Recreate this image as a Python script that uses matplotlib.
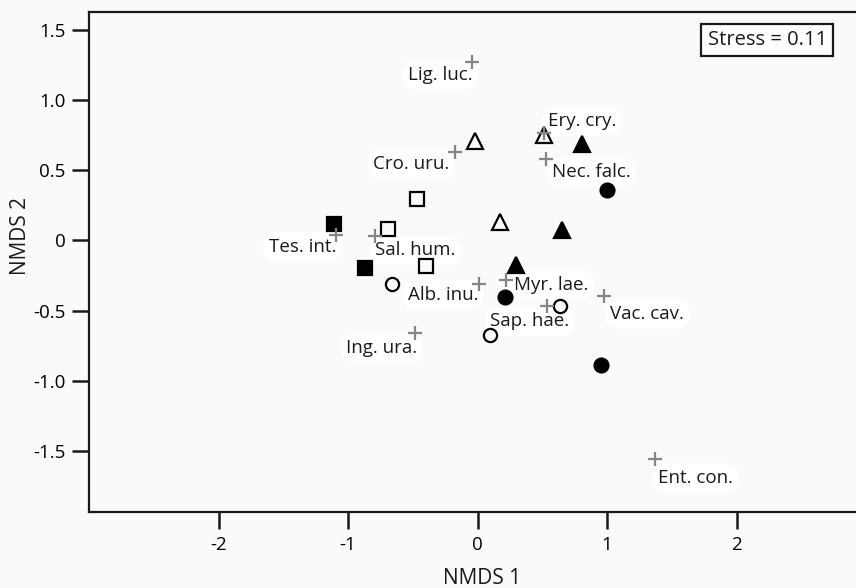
import matplotlib
matplotlib.use("Agg")
import matplotlib.pyplot as plt

plt.rcParams['font.family'] = ['Open Sans', 'DejaVu Sans']
plt.rcParams['axes.unicode_minus'] = False

# Site scores (groups)
open_tri_x = [-0.02, 0.51, 0.17]
open_tri_y = [0.71, 0.75, 0.13]
fill_tri_x = [0.81, 0.65, 0.30]
fill_tri_y = [0.69, 0.075, -0.175]
open_sq_x = [-0.47, -0.69, -0.40]
open_sq_y = [0.295, 0.084, -0.18]
fill_sq_x = [-1.11, -0.87]
fill_sq_y = [0.118, -0.198]
open_circ_x = [-0.66, 0.64, 0.10]
open_circ_y = [-0.31, -0.47, -0.67]
fill_circ_x = [1.00, 0.21, 0.95]
fill_circ_y = [0.36, -0.405, -0.89]

# Species scores
species = ["Lig. luc.", "Cro. uru.", "Ery. cry.", "Nec. falc.", "Tes. int.", "Sal. hum.",
           "Alb. inu.", "Myr. lae.", "Sap. hae.", "Vac. cav.", "Ing. ura.", "Ent. con."]
sp_x = [-0.04, -0.17, 0.51, 0.53, -1.09, -0.79, 0.01, 0.22, 0.54, 0.98, -0.48, 1.37]
sp_y = [1.27, 0.63, 0.765, 0.58, 0.04, 0.03, -0.31, -0.28, -0.47, -0.395, -0.66, -1.556]
# label offsets in pixels (dx, dy) and alignment
label_off = [(0, -13, 'right'), (-6, -12, 'right'), (4, 12, 'left'), (6, -13, 'left'),
             (0, -12, 'right'), (0, -14, 'left'), (0, -11, 'right'), (8, -5, 'left'),
             (-57, -15, 'left'), (6, -18, 'left'), (2, -15, 'right'), (3, -19, 'left')]

xticks = [-2, -1, 0, 1, 2]
xticklabels = ["-2", "-1", "0", "1", "2"]
yticks = [1.5, 1.0, 0.5, 0, -0.5, -1.0, -1.5]
yticklabels = ["1.5", "1.0", "0.5", "0", "-0.5", "-1.0", "-1.5"]

W, H = 856, 588
fig = plt.figure(figsize=(W / 100, H / 100), dpi=100, facecolor='#fafafa')
ax = fig.add_axes([89 / W, 76 / H, 777 / W, 500 / H])
ax.set_facecolor('#fafafa')
ax.set_xlim(-3, 3)
ax.set_ylim(-1.934, 1.627)

for s in ['top', 'left', 'bottom']:
    ax.spines[s].set_linewidth(1.6)
    ax.spines[s].set_color('#1a1a1a')
ax.spines['right'].set_visible(False)

ax.set_xticks(xticks)
ax.set_xticklabels(xticklabels)
ax.set_yticks(yticks)
ax.set_yticklabels(yticklabels)
ax.tick_params(direction='out', length=12, width=1.8, labelsize=13.5, pad=5, color='#1a1a1a')

ms = 10
mew = 1.6
z = 5
ax.plot(open_tri_x, open_tri_y, '^', ms=ms + 1, mfc='none', mec='black', mew=mew, ls='none', zorder=z)
ax.plot(fill_tri_x, fill_tri_y, '^', ms=ms + 1, mfc='black', mec='black', mew=mew, ls='none', zorder=z)
ax.plot(open_sq_x, open_sq_y, 's', ms=ms - 0.5, mfc='none', mec='black', mew=mew, ls='none', zorder=z)
ax.plot(fill_sq_x, fill_sq_y, 's', ms=ms - 0.5, mfc='black', mec='black', mew=mew, ls='none', zorder=z)
ax.plot(open_circ_x, open_circ_y, 'o', ms=ms - 0.5, mfc='none', mec='black', mew=mew, ls='none', zorder=z)
ax.plot(fill_circ_x, fill_circ_y, 'o', ms=ms, mfc='black', mec='black', mew=mew, ls='none', zorder=z)
ax.plot(sp_x, sp_y, '+', ms=10.5, mec='#858585', mew=1.6, ls='none', zorder=z + 1)

for name, x, y, (dx, dy, ha) in zip(species, sp_x, sp_y, label_off):
    ax.annotate(name, (x, y), xytext=(dx * 0.72, dy * 0.72), textcoords='offset points',
                ha=ha, va='center', fontsize=13.5, color='#1a1a1a', zorder=2,
                bbox=dict(boxstyle='round,pad=0.3,rounding_size=0.8', fc='white', ec='none'))

ax.text(0.9495, 0.944, "Stress = 0.11", transform=ax.transAxes, ha='right', va='center',
        fontsize=14.5, color='#1a1a1a', zorder=7,
        bbox=dict(boxstyle='square,pad=0.32', fc='white', ec='#1a1a1a', lw=1.6))

fig.text(482 / W, 1 - 578 / H, "NMDS 1", ha='center', va='center', fontsize=15, color='#1a1a1a')
fig.text(20 / W, 1 - 236 / H, "NMDS 2", ha='center', va='center', rotation=90, fontsize=15, color='#1a1a1a')

fig.savefig("out.png", dpi=100, facecolor=fig.get_facecolor())
